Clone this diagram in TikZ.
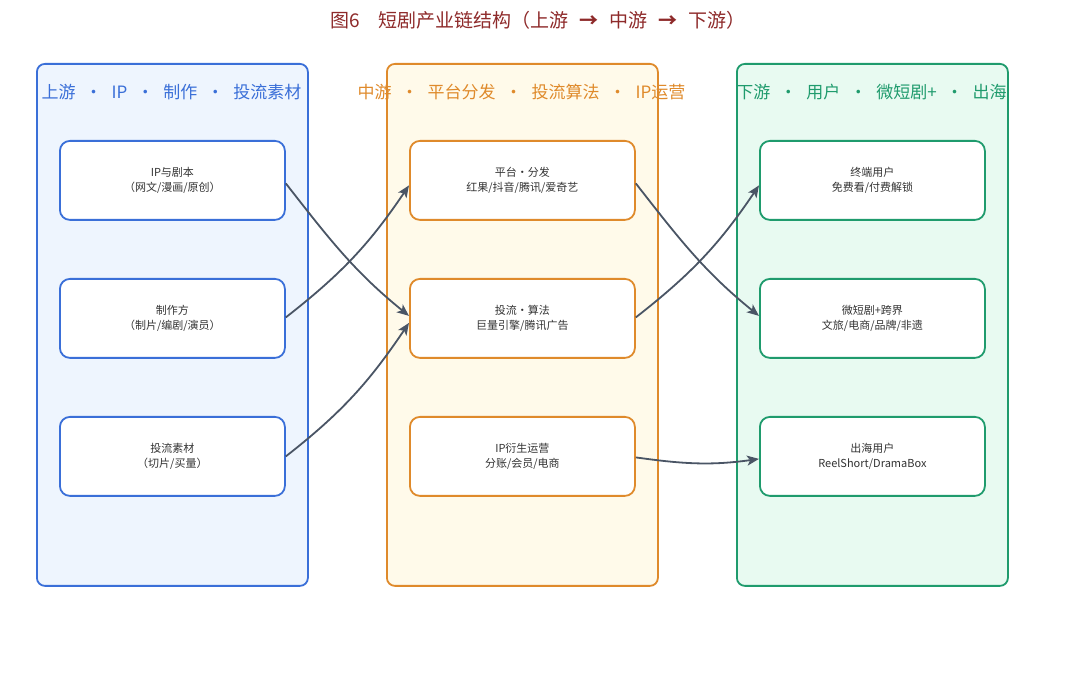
\documentclass[tikz,border=0pt]{standalone}
\usepackage{fontspec}
\setmainfont{Noto Sans CJK SC}
\usetikzlibrary{arrows.meta}
\definecolor{bluebd}{HTML}{3A6FD8}
\definecolor{bluebg}{HTML}{EEF5FE}
\definecolor{orabd}{HTML}{DF8A2B}
\definecolor{orabg}{HTML}{FFFAEA}
\definecolor{grnbd}{HTML}{1F9B6D}
\definecolor{grnbg}{HTML}{E8FAF1}
\definecolor{titlec}{HTML}{8E2A2A}
\definecolor{arrowc}{HTML}{4A5565}
\definecolor{txtc}{HTML}{333333}
\newcommand{\sep}{\hspace{9.5pt}·\hspace{9.5pt}}
\newcommand{\asep}{\hspace{11pt}{\bfseries →}\hspace{11pt}}
\tikzset{
  colbox/.style={draw=#1, line width=1.8pt, rounded corners=8pt, minimum width=271pt, minimum height=522pt, anchor=north west, inner sep=0pt},
  hdr/.style={text=#1, font=\fontsize{17}{19}\selectfont, anchor=center, inner sep=0pt},
  item/.style={draw=#1, fill=white, line width=1.8pt, rounded corners=10pt, minimum width=225pt, minimum height=79pt, anchor=north west, inner sep=0pt, align=center, text=txtc, font=\fontsize{11}{15}\selectfont},
  conn/.style={draw=arrowc, line width=1.8pt, -{Stealth[length=12pt,width=10pt,inset=3pt]}}
}
\begin{document}
\begin{tikzpicture}[x=1pt,y=-1pt]
\useasboundingbox (0,0) rectangle (1080,692);
\node[text=titlec, font=\fontsize{19}{22}\selectfont, inner sep=0pt] (title) at (538,20) {图6\hspace{18pt}短剧产业链结构（上游\asep 中游\asep 下游）};
% columns
\node[colbox=bluebd, fill=bluebg] (colA) at (36,63) {};
\node[colbox=orabd, fill=orabg] (colB) at (386,63) {};
\node[colbox=grnbd, fill=grnbg] (colC) at (736,63) {};
\node[hdr=bluebd] (hA) at (171.5,92) {上游\sep IP\sep 制作\sep 投流素材};
\node[hdr=orabd] (hB) at (521.5,92) {中游\sep 平台分发\sep 投流算法\sep IP运营};
\node[hdr=grnbd] (hC) at (871.5,92) {下游\sep 用户\sep 微短剧+\sep 出海};
% items
\node[item=bluebd] (a1) at (59,140) {IP与剧本\\（网文/漫画/原创）};
\node[item=bluebd] (a2) at (59,278) {制作方\\（制片/编剧/演员）};
\node[item=bluebd] (a3) at (59,416) {投流素材\\（切片/买量）};
\node[item=orabd] (b1) at (409,140) {平台·分发\\红果/抖音/腾讯/爱奇艺};
\node[item=orabd] (b2) at (409,278) {投流·算法\\巨量引擎/腾讯广告};
\node[item=orabd] (b3) at (409,416) {IP衍生运营\\分账/会员/电商};
\node[item=grnbd] (c1) at (759,140) {终端用户\\免费看/付费解锁};
\node[item=grnbd] (c2) at (759,278) {微短剧+跨界\\文旅/电商/品牌/非遗};
\node[item=grnbd] (c3) at (759,416) {出海用户\\ReelShort/DramaBox};
% connectors
\draw[conn] ([yshift=-3pt]a1.east) to[out=-52,in=141] ([yshift=2.5pt]b2.west);
\draw[conn] ([yshift=1pt]a2.east) to[out=38,in=-124] ([yshift=-5pt]b1.west);
\draw[conn] ([yshift=0pt]a3.east) to[out=38,in=-124] ([yshift=-4.5pt]b2.west);
\draw[conn] ([yshift=-3pt]b1.east) to[out=-52,in=141] ([yshift=2.5pt]c2.west);
\draw[conn] ([yshift=1pt]b2.east) to[out=38,in=-124] ([yshift=-5pt]c1.west);
\draw[conn] ([yshift=-1pt]b3.east) to[out=-8,in=-172] ([yshift=-2.5pt]c3.west);
\end{tikzpicture}
\end{document}
